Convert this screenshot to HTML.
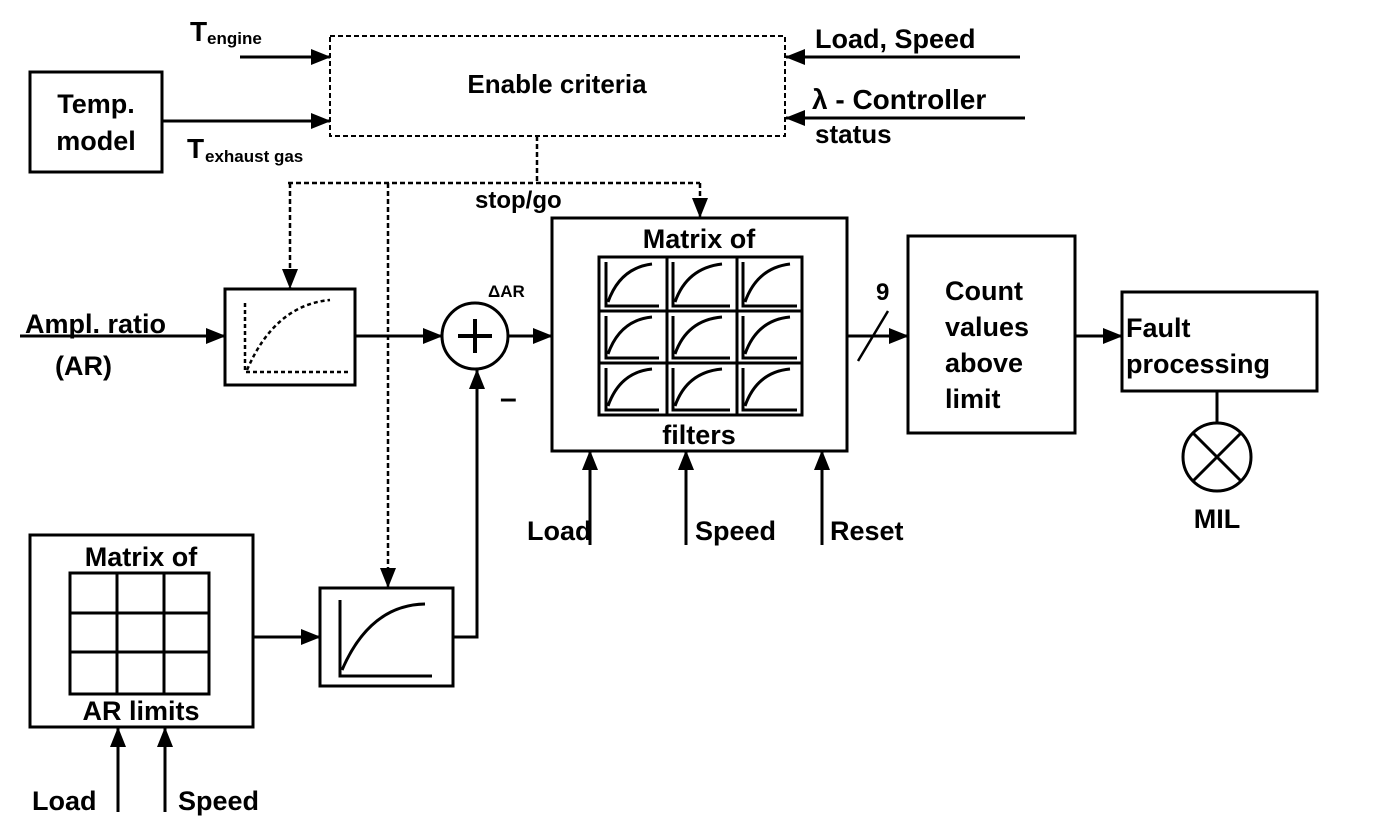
<!DOCTYPE html>
<html><head><meta charset="utf-8"><style>
html,body{margin:0;padding:0;background:#fff}
svg{display:block}
text{font-family:"Liberation Sans",sans-serif;font-weight:bold;fill:#000}
</style></head><body>
<svg width="1376" height="840" viewBox="0 0 1376 840" xmlns="http://www.w3.org/2000/svg">
<defs>
<marker id="a" markerWidth="20" markerHeight="16" refX="19" refY="8" orient="auto" markerUnits="userSpaceOnUse" viewBox="0 0 20 16">
<path d="M0,0 L20,8 L0,16 z" fill="#000"/></marker>
</defs>
<g stroke="#000" fill="none" stroke-width="3">
<rect x="330" y="36" width="455" height="100" stroke-dasharray="5,3" stroke-width="2"/>
<line x1="240" y1="57" x2="330" y2="57" marker-end="url(#a)"/>
<rect x="30" y="72" width="132" height="100"/>
<line x1="162" y1="121" x2="330" y2="121" marker-end="url(#a)"/>
<line x1="1020" y1="57" x2="786" y2="57" marker-end="url(#a)"/>
<line x1="1025" y1="118" x2="786" y2="118" marker-end="url(#a)"/>
<g stroke-dasharray="5,3" stroke-width="2.5">
<line x1="537" y1="136" x2="537" y2="183"/>
<line x1="288" y1="183" x2="700" y2="183"/>
<line x1="290" y1="183" x2="290" y2="288" marker-end="url(#a)"/>
<line x1="388" y1="183" x2="388" y2="587" marker-end="url(#a)"/>
<line x1="700" y1="183" x2="700" y2="217" marker-end="url(#a)"/>
</g>
<line x1="20" y1="336" x2="225" y2="336" marker-end="url(#a)"/>
<rect x="225" y="289" width="130" height="96"/>
<path d="M245,303 V372 H350" stroke-dasharray="4,3" stroke-width="2.5"/>
<path d="M247,370 Q275,305 330,300" stroke-dasharray="4,3" stroke-width="2.5"/>
<line x1="355" y1="336" x2="442" y2="336" marker-end="url(#a)"/>
<circle cx="475" cy="336" r="33"/>
<line x1="458" y1="336" x2="492" y2="336" stroke-width="4"/>
<line x1="475" y1="319" x2="475" y2="353" stroke-width="4"/>
<line x1="508" y1="336" x2="552" y2="336" marker-end="url(#a)"/>
<rect x="552" y="218" width="295" height="233"/>
<rect x="599" y="257" width="203" height="158"/>
<line x1="667" y1="257" x2="667" y2="415"/>
<line x1="737" y1="257" x2="737" y2="415"/>
<line x1="599" y1="311" x2="802" y2="311"/>
<line x1="599" y1="363" x2="802" y2="363"/>
<g stroke-width="3">
<path d="M606,262 V306 H659 M608,302 Q620,268 652,264"/>
<path d="M673,262 V306 H730 M675,302 Q687,268 722,264"/>
<path d="M743,262 V306 H797 M745,302 Q757,268 790,264"/>
<path d="M606,316 V358 H659 M608,354 Q620,320 652,317"/>
<path d="M673,316 V358 H730 M675,354 Q687,320 722,317"/>
<path d="M743,316 V358 H797 M745,354 Q757,320 790,317"/>
<path d="M606,368 V410 H659 M608,406 Q620,372 652,369"/>
<path d="M673,368 V410 H730 M675,406 Q687,372 722,369"/>
<path d="M743,368 V410 H797 M745,406 Q757,372 790,369"/>
</g>
<line x1="847" y1="336" x2="908" y2="336" marker-end="url(#a)"/>
<line x1="858" y1="361" x2="888" y2="311" stroke-width="2.5"/>
<rect x="908" y="236" width="167" height="197"/>
<line x1="1075" y1="336" x2="1122" y2="336" marker-end="url(#a)"/>
<rect x="1122" y="292" width="195" height="99"/>
<line x1="1217" y1="391" x2="1217" y2="423"/>
<circle cx="1217" cy="457" r="34"/>
<line x1="1193" y1="433" x2="1241" y2="481"/>
<line x1="1241" y1="433" x2="1193" y2="481"/>
<line x1="590" y1="545" x2="590" y2="451" marker-end="url(#a)"/>
<line x1="686" y1="545" x2="686" y2="451" marker-end="url(#a)"/>
<line x1="822" y1="545" x2="822" y2="451" marker-end="url(#a)"/>
<rect x="30" y="535" width="223" height="192"/>
<rect x="70" y="573" width="139" height="121"/>
<line x1="117" y1="573" x2="117" y2="694"/>
<line x1="164" y1="573" x2="164" y2="694"/>
<line x1="70" y1="613" x2="209" y2="613"/>
<line x1="70" y1="652" x2="209" y2="652"/>
<line x1="118" y1="812" x2="118" y2="728" marker-end="url(#a)"/>
<line x1="165" y1="812" x2="165" y2="728" marker-end="url(#a)"/>
<line x1="253" y1="637" x2="320" y2="637" marker-end="url(#a)"/>
<rect x="320" y="588" width="133" height="98"/>
<path d="M340,600 V676 H432 M342,670 Q370,605 425,604"/>
<path d="M453,637 H477 V370" marker-end="url(#a)"/>
</g>
<text x="557" y="93" font-size="26" text-anchor="middle">Enable criteria</text>
<text x="190" y="41" font-size="28">T</text><text x="207" y="44" font-size="17">engine</text>
<text x="96" y="113" font-size="27" text-anchor="middle">Temp.</text>
<text x="96" y="150" font-size="27" text-anchor="middle">model</text>
<text x="187" y="158" font-size="28">T</text><text x="205" y="162" font-size="17">exhaust gas</text>
<text x="815" y="48" font-size="27">Load, Speed</text>
<text x="812" y="109" font-size="28">λ - Controller</text>
<text x="815" y="143" font-size="26">status</text>
<text x="475" y="208" font-size="24">stop/go</text>
<text x="25" y="333" font-size="27">Ampl. ratio</text>
<text x="55" y="375" font-size="27">(AR)</text>
<text x="488" y="297" font-size="17">ΔAR</text>
<text x="500" y="408" font-size="30">–</text>
<text x="699" y="248" font-size="27" text-anchor="middle">Matrix of</text>
<text x="699" y="444" font-size="27" text-anchor="middle">filters</text>
<text x="876" y="300" font-size="24">9</text>
<text x="945" y="300" font-size="27">Count</text>
<text x="945" y="336" font-size="27">values</text>
<text x="945" y="372" font-size="27">above</text>
<text x="945" y="408" font-size="27">limit</text>
<text x="1126" y="337" font-size="27">Fault</text>
<text x="1126" y="373" font-size="27">processing</text>
<text x="1217" y="528" font-size="27" text-anchor="middle">MIL</text>
<text x="527" y="540" font-size="27">Load</text>
<text x="695" y="540" font-size="27">Speed</text>
<text x="830" y="540" font-size="27">Reset</text>
<text x="141" y="566" font-size="27" text-anchor="middle">Matrix of</text>
<text x="141" y="720" font-size="27" text-anchor="middle">AR limits</text>
<text x="32" y="810" font-size="27">Load</text>
<text x="178" y="810" font-size="27">Speed</text>
</svg>
</body></html>
